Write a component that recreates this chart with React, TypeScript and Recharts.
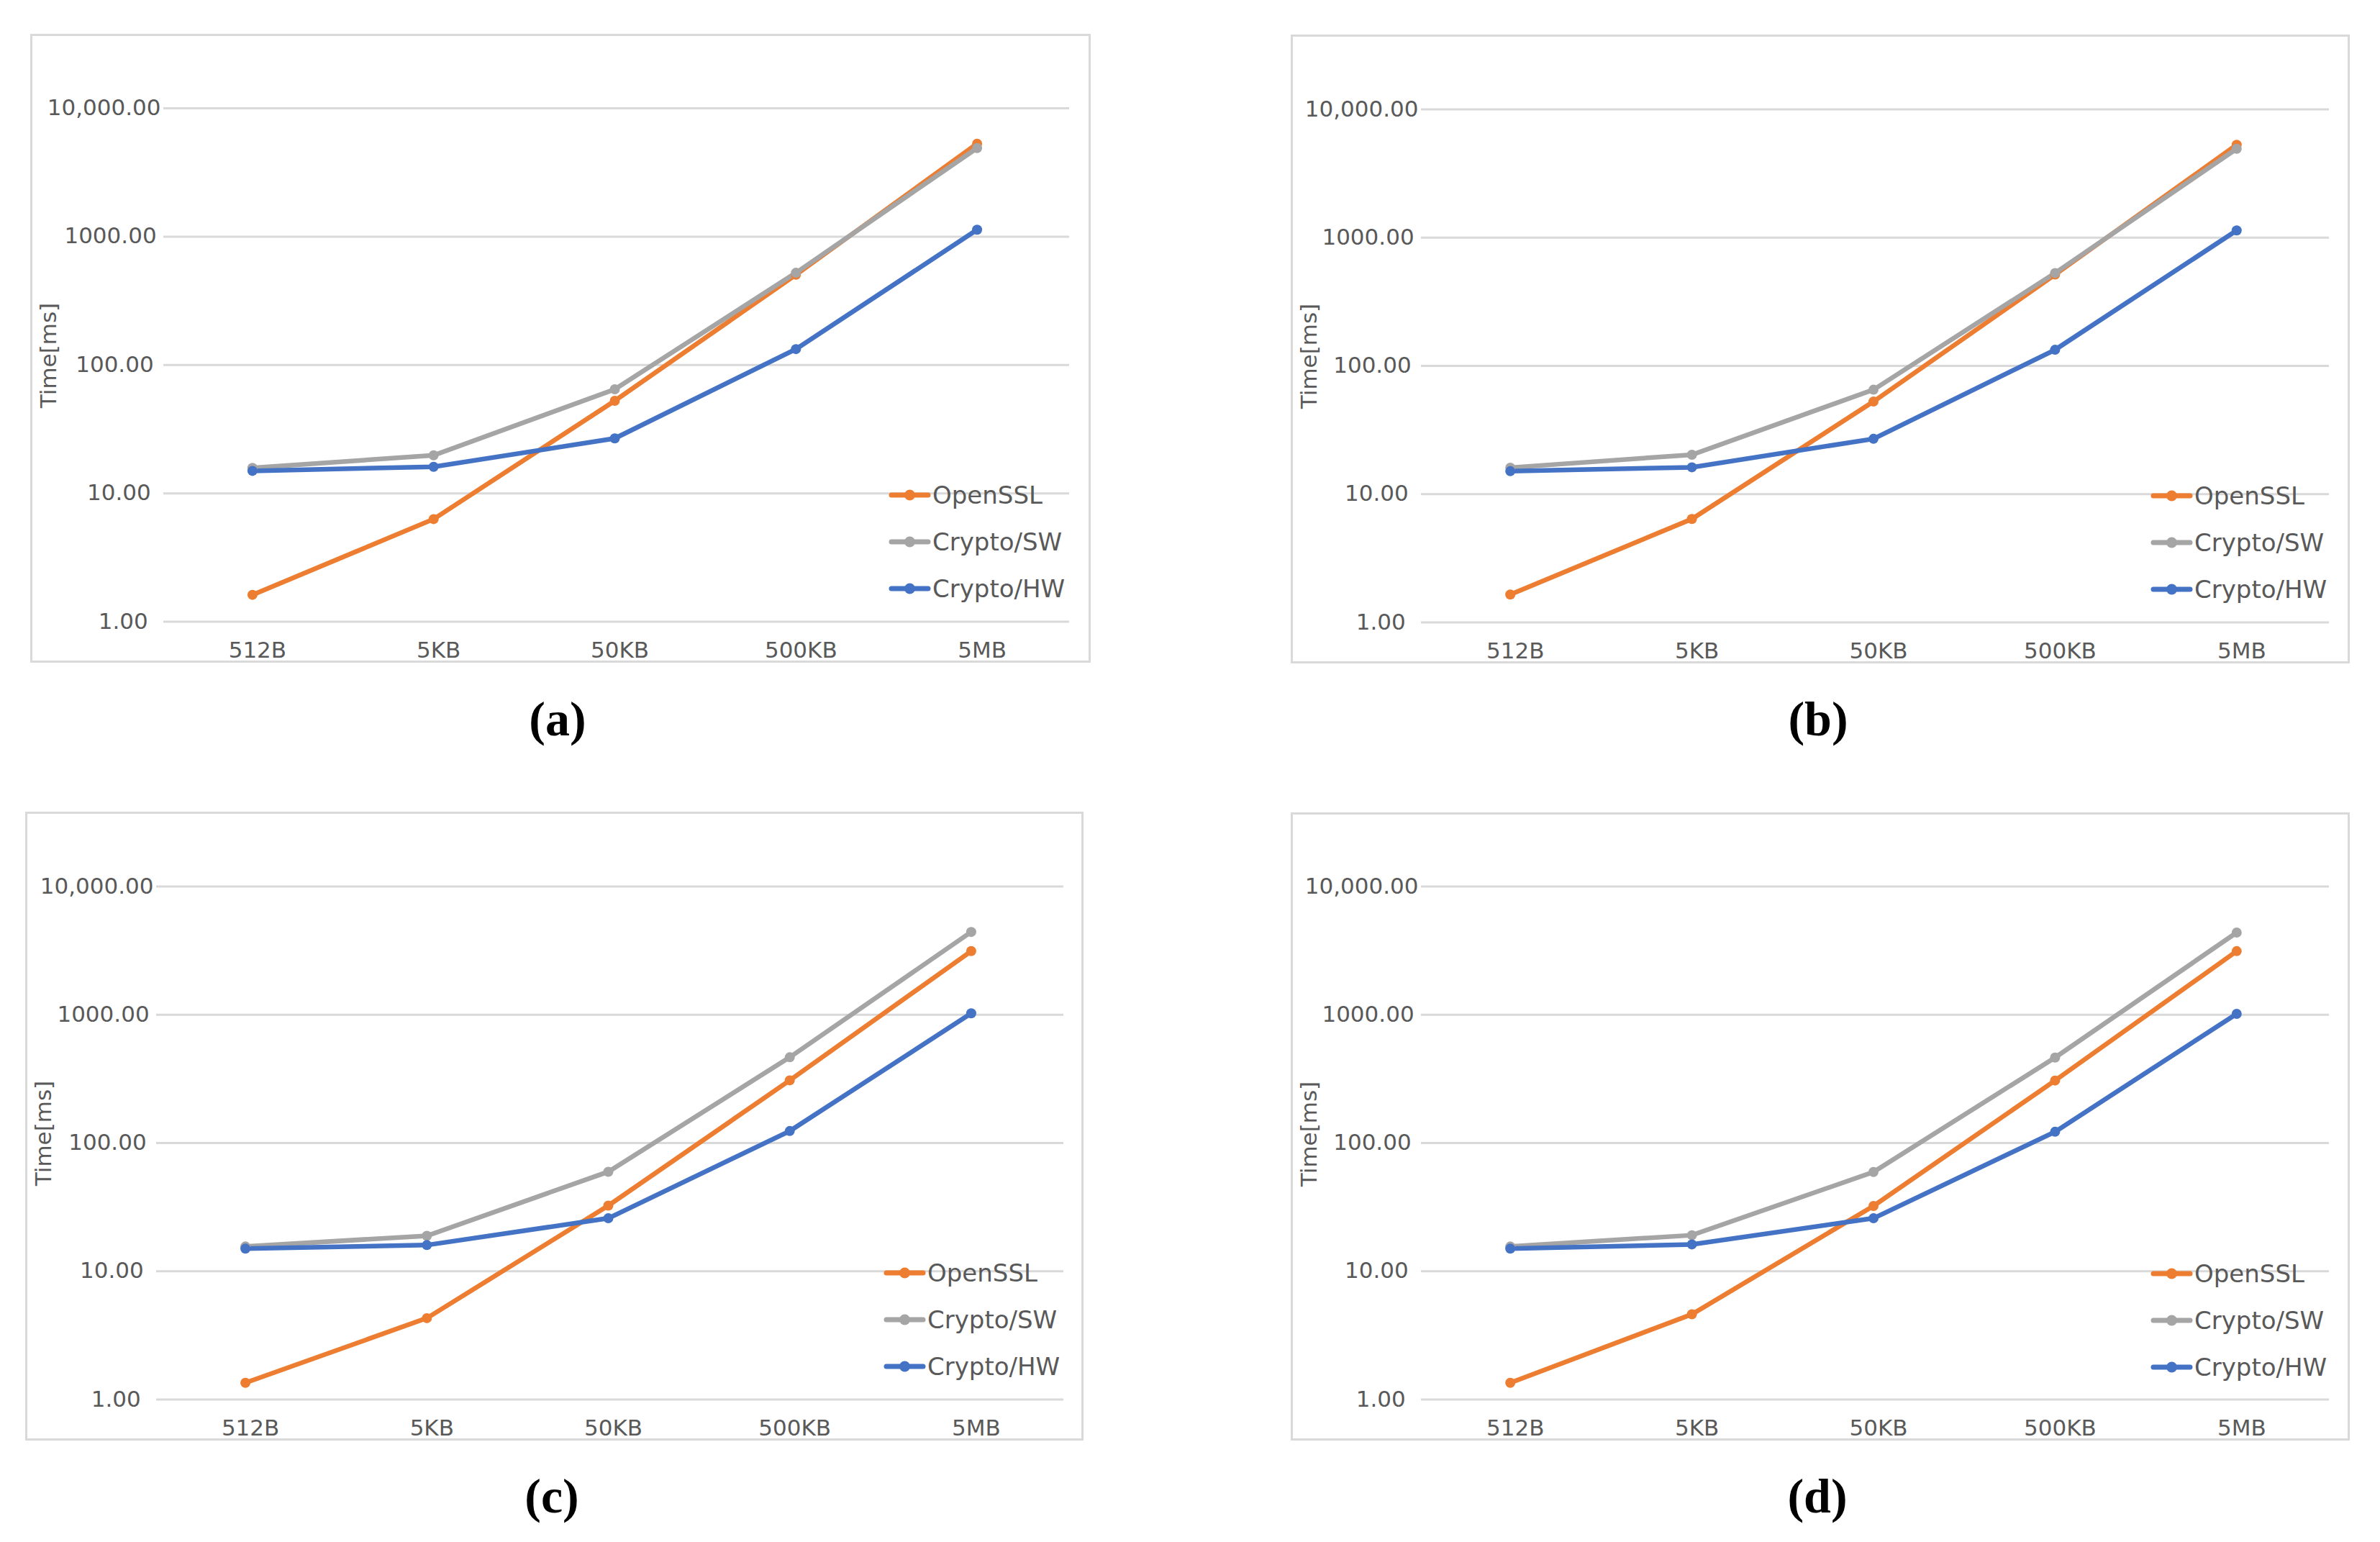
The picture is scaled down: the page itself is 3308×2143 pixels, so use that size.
import React from 'react';
import { LineChart, Line, XAxis, YAxis, CartesianGrid, Legend } from 'recharts';

// ---------- data ----------
const categories = ['512B', '5KB', '50KB', '500KB', '5MB'];
const seriesNames = ['OpenSSL', 'Crypto/SW', 'Crypto/HW'];
const yTicks = [1, 10, 100, 1000, 10000];
const yTickLabels = ['1.00', '10.00', '100.00', '1000.00', '10,000.00'];
const captions = ['(a)', '(b)', '(c)', '(d)'];
const yAxisTitle = 'Time[ms]';

const opensslA = [1.62, 6.3, 52.6, 505, 5300];
const cryptoSwA = [15.8, 19.8, 64.7, 523, 4900];
const cryptoHwA = [14.96, 16.1, 26.8, 133, 1132];

const opensslB = [1.65, 6.4, 52.7, 515, 5300];
const cryptoSwB = [16.1, 20.3, 65.2, 530, 4930];
const cryptoHwB = [15.1, 16.2, 27.0, 133.6, 1137];

const opensslC = [1.35, 4.31, 32.5, 308, 3135];
const cryptoSwC = [15.6, 18.9, 59.7, 466, 4424];
const cryptoHwC = [15.0, 16.0, 25.9, 124, 1026];

const opensslD = [1.35, 4.62, 32.3, 307, 3133];
const cryptoSwD = [15.6, 19.1, 59.4, 464, 4377];
const cryptoHwD = [15.0, 16.2, 25.9, 122.4, 1016];

// ---------- style ----------
const COLORS = ['#ED7D31', '#A5A5A5', '#4472C4'];
const TEXT = '#595959';
const GRID = '#D9D9D9';
const FONT = "'DejaVu Sans', Verdana, sans-serif";
const TICK_FS = 31;
const LEGEND_FS = 34;

const panels = [
  { series: [opensslA, cryptoSwA, cryptoHwA], left: 42, top: 47, width: 1474, height: 874, plotLeft: 185, right: 30, plotTop: 103.5, legendLeft: 1194, capX: 775, capY: 1022 },
  { series: [opensslB, cryptoSwB, cryptoHwB], left: 1794, top: 48, width: 1472, height: 874, plotLeft: 181, right: 29, plotTop: 104, legendLeft: 1196, capX: 2527, capY: 1022 },
  { series: [opensslC, cryptoSwC, cryptoHwC], left: 35, top: 1128, width: 1471, height: 874, plotLeft: 182, right: 28, plotTop: 104, legendLeft: 1194, capX: 767, capY: 2102 },
  { series: [opensslD, cryptoSwD, cryptoHwD], left: 1794, top: 1129, width: 1472, height: 873, plotLeft: 181, right: 29, plotTop: 103, legendLeft: 1196, capX: 2526, capY: 2102 },
];

function buildRows(series: number[][]) {
  return categories.map((cat, i) => {
    const row: any = { cat };
    seriesNames.forEach((name, s) => {
      row[name] = series[s][i];
    });
    return row;
  });
}

const YTick = (props: any) => {
  const { x, y, payload } = props;
  const idx = yTicks.indexOf(payload.value);
  const label = idx >= 0 ? yTickLabels[idx] : String(payload.value);
  const digits = label.replace(/[^0-9]/g, '').length;
  const punct = label.length - digits;
  const w = TICK_FS * (digits * 0.636 + punct * 0.318);
  return (
    <text x={x - 35 + 0.2 * w} y={y + 9.5} textAnchor="end" fill={TEXT} fontSize={TICK_FS} fontFamily={FONT}>
      {label}
    </text>
  );
};

const XTick = (props: any) => {
  const { x, y, payload } = props;
  return (
    <text x={x + 7} y={y + 50} textAnchor="middle" fill={TEXT} fontSize={TICK_FS} fontFamily={FONT}>
      {payload.value}
    </text>
  );
};

const LegendBox = (props: any) => {
  const payload = [...(props.payload || [])].sort(
    (a: any, b: any) => seriesNames.indexOf(a.value) - seriesNames.indexOf(b.value)
  );
  return (
    <svg width={330} height={200} style={{ overflow: 'visible' }}>
      {payload.map((p: any, i: number) => (
        <g key={p.value} transform={`translate(0, ${32 + i * 65})`}>
          <line x1={3} x2={54} y1={0} y2={0} stroke={p.color} strokeWidth={7} strokeLinecap="round" />
          <circle cx={28.5} cy={0} r={7.5} fill={p.color} />
          <text x={60} y={11.5} fontSize={LEGEND_FS} fill={TEXT} fontFamily={FONT}>
            {p.value}
          </text>
        </g>
      ))}
    </svg>
  );
};

const Panel = ({ cfg }: { cfg: any }) => {
  const rows = buildRows(cfg.series);
  const plotW = cfg.width - cfg.plotLeft - cfg.right;
  const pad = plotW / 10;
  return (
    <div style={{ position: 'absolute', left: cfg.left, top: cfg.top, width: cfg.width, height: cfg.height }}>
      <div
        style={{
          position: 'absolute',
          left: 0,
          top: 0,
          width: cfg.width,
          height: cfg.height,
          border: `3px solid ${GRID}`,
          boxSizing: 'border-box',
          pointerEvents: 'none',
        }}
      />
      <LineChart
        width={cfg.width}
        height={cfg.height}
        data={rows}
        margin={{ top: cfg.plotTop, right: cfg.right, bottom: 0, left: 0 }}
      >
        <CartesianGrid vertical={false} stroke={GRID} strokeWidth={3} />
        <XAxis
          dataKey="cat"
          height={57}
          axisLine={false}
          tickLine={false}
          tickSize={0}
          tickMargin={0}
          padding={{ left: pad - 2, right: pad + 2 }}
          tick={<XTick />}
          interval={0}
        />
        <YAxis
          type="number"
          scale="log"
          domain={[1, 10000]}
          ticks={yTicks}
          allowDataOverflow
          width={cfg.plotLeft}
          axisLine={false}
          tickLine={false}
          tickSize={0}
          tickMargin={0}
          tick={<YTick />}
          interval={0}
          label={{
            content: () => (
              <text
                x={25}
                y={447}
                transform="rotate(-90 25 447)"
                textAnchor="middle"
                dy="0.36em"
                fill={TEXT}
                fontSize={TICK_FS}
                fontFamily={FONT}
              >
                {yAxisTitle}
              </text>
            ),
          }}
        />
        <Legend
          layout="horizontal"
          verticalAlign="middle"
          align="center"
          content={<LegendBox />}
          wrapperStyle={{ position: 'absolute', left: cfg.legendLeft, top: 641 - 32, width: 330, height: 200 }}
        />
        {seriesNames.map((name, s) => (
          <Line
            key={name}
            type="linear"
            dataKey={name}
            name={name}
            stroke={COLORS[s]}
            strokeWidth={6.5}
            dot={{ r: 7, fill: COLORS[s], stroke: COLORS[s], strokeWidth: 0 }}
            activeDot={false}
            isAnimationActive={false}
          />
        ))}
      </LineChart>
    </div>
  );
};

export default function App() {
  return (
    <div
      style={{
        position: 'absolute',
        left: 0,
        top: 0,
        width: 3308,
        height: 2143,
        background: '#ffffff',
        overflow: 'hidden',
      }}
    >
      {panels.map((cfg, i) => (
        <Panel key={i} cfg={cfg} />
      ))}
      <svg width={3308} height={2143} style={{ position: 'absolute', left: 0, top: 0, pointerEvents: 'none' }}>
        {panels.map((cfg, i) => (
          <text
            key={i}
            x={cfg.capX}
            y={cfg.capY}
            textAnchor="middle"
            fontFamily="'Liberation Serif', 'Times New Roman', serif"
            fontWeight="bold"
            fontSize={68}
            fill="#000"
          >
            {captions[i]}
          </text>
        ))}
      </svg>
    </div>
  );
}
